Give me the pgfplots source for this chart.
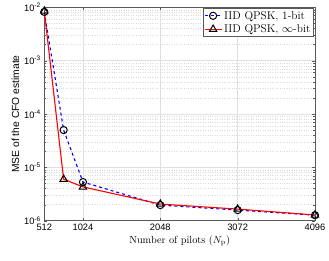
\documentclass[border=0pt]{standalone}
\usepackage{fontspec}
\setsansfont{Liberation Sans}
\usepackage{pgfplots}
\pgfplotsset{compat=1.18}
\begin{document}
\begin{tikzpicture}
\begin{axis}[
  scale only axis,
  width=270.7pt, height=213.4pt,
  xmin=512, xmax=4096,
  ymode=log, ymin=1e-6, ymax=1e-2,
  xtick={512,1024,2048,3072,4096},
  xticklabels={512,1024,2048,3072,4096},
  ytick={1e-6,1e-5,1e-4,1e-3,1e-2},
  yticklabels={10\textsuperscript{-6},10\textsuperscript{-5},10\textsuperscript{-4},10\textsuperscript{-3},10\textsuperscript{-2}},
  ticklabel style={font=\sffamily\fontsize{9.3}{10}\selectfont},
  xlabel={Number of pilots ($N_\mathrm{p}$)},
  ylabel={\sffamily MSE of the CFO estimate},
  label style={font=\fontsize{10.3}{12}\selectfont},
  xlabel style={yshift=2pt},
  ylabel style={yshift=-2pt},
  tick align=inside,
  axis line style={draw=black!65},
  tick style={black!65},
  major tick length=3pt, minor tick length=2pt,
  ymajorgrids, yminorgrids, xmajorgrids,
  major grid style={draw=black!12, line width=0.4pt},
  minor grid style={draw=black!15, dotted, line width=0.4pt},
  legend style={at={(0.993,0.995)}, anchor=north east, font=\fontsize{11.3}{12.5}\selectfont, draw=black!65, inner sep=0.5pt, row sep=0pt, legend cell align=left},
  legend image post style={xscale=1.0},
]
\addplot[blue, dashed, line width=1.1pt, mark=o, mark size=3.6pt, mark options={solid, draw=black, line width=1pt}]
  coordinates {(512,8.2e-3) (768,5.0e-5) (1024,5.3e-6) (2048,1.96e-6) (3072,1.58e-6) (4096,1.27e-6)};
\addlegendentry{IID QPSK, 1-bit}
\addplot[red, solid, line width=1.1pt, mark=triangle, mark size=4.2pt, mark options={solid, draw=black, line width=1pt}]
  coordinates {(512,8.5e-3) (768,6.0e-6) (1024,4.3e-6) (2048,2.05e-6) (3072,1.65e-6) (4096,1.28e-6)};
\addlegendentry{IID QPSK, $\infty$-bit}
\end{axis}
\pgfresetboundingbox
\path[use as bounding box] ([shift={(-44.3pt,-40.3pt)}]current axis.south west) rectangle ([shift={(14pt,7.3pt)}]current axis.north east);
\end{tikzpicture}
\end{document}
